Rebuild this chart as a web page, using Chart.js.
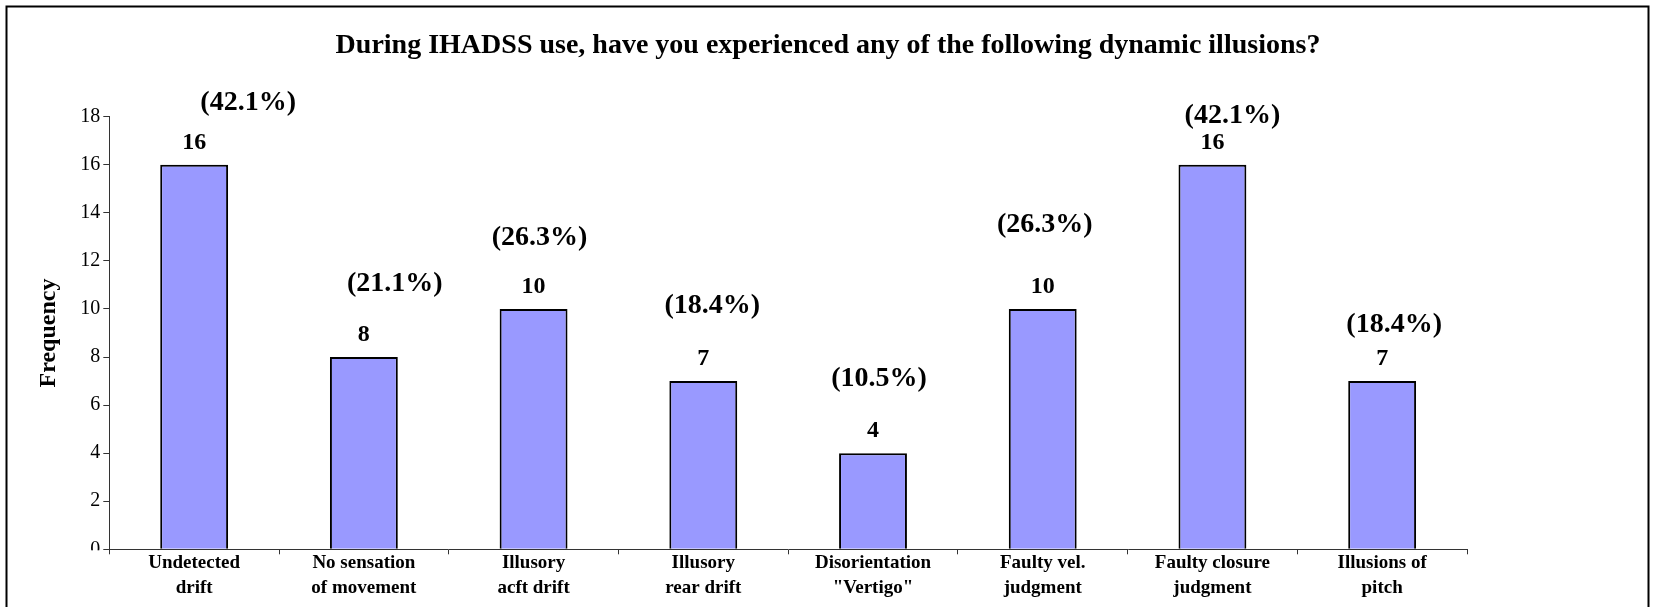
<!DOCTYPE html>
<html>
<head>
<meta charset="utf-8">
<title>Dynamic illusions</title>
<script src="https://cdn.jsdelivr.net/npm/chart.js@4.4.1/dist/chart.umd.min.js"></script>
<style>
  html, body { margin: 0; padding: 0; background: #ffffff; }
  canvas { display: block; }
</style>
</head>
<body>
<canvas id="illusionsChart" width="1654" height="607"></canvas>
<script>
// ======================================================
// DATA
// ======================================================

const categoryLabels = [
  ["Undetected", "drift"],
  ["No sensation", "of movement"],
  ["Illusory", "acft drift"],
  ["Illusory", "rear drift"],
  ["Disorientation", "\"Vertigo\""],
  ["Faulty vel.", "judgment"],
  ["Faulty closure", "judgment"],
  ["Illusions of", "pitch"],
];

const frequencyValues = [16, 8, 10, 7, 4, 10, 16, 7];

const percentValues = [42.1, 21.1, 26.3, 18.4, 10.5, 26.3, 42.1, 18.4];

const yTicks = { min: 0, max: 18, step: 2 };

const chartTitle =
  "During IHADSS use, have you experienced any of the following dynamic illusions?";

// ======================================================
// LAYOUT / STYLE
// ======================================================

const SERIF = "'Liberation Serif', 'Times New Roman', serif";
const BAR_COLOR = "#9999ff";
const AXIS_COLOR = "#333333";

// the percentage boxes were placed by hand in the original, offset from the count label
const percentLabelShift = [
  [54, -40],
  [31, -51],
  [6, -49],
  [9, -53],
  [6, -52],
  [2, -62],
  [20, -27],
  [12, -34],
];

// ======================================================
// PLUGINS
// ======================================================

const framePlugin = {
  id: "frame",
  beforeDraw(chart) {
    const { ctx } = chart;
    ctx.save();
    ctx.strokeStyle = "#000000";
    ctx.lineWidth = 2;
    ctx.strokeRect(6.5, 6.5, 1642, 700);

    ctx.fillStyle = "#000000";
    ctx.font = `bold 28px ${SERIF}`;
    ctx.textAlign = "center";
    ctx.textBaseline = "middle";
    ctx.fillText(chartTitle, 828, 46);
    ctx.restore();
  },
  afterDraw(chart) {
    // in the original the "0" tick label is cut off by the category axis
    const { ctx } = chart;
    const yScale = chart.scales.y;
    const zeroY = yScale.getPixelForValue(0);
    ctx.save();
    ctx.fillStyle = "#ffffff";
    ctx.fillRect(yScale.left + 40, zeroY + 1, yScale.width - 48, 14);
    ctx.restore();
  },
};

const barLabelPlugin = {
  id: "barLabels",
  afterDatasetsDraw(chart) {
    const { ctx } = chart;
    const bars = chart.getDatasetMeta(0).data;

    ctx.save();
    ctx.fillStyle = "#000000";
    ctx.textAlign = "center";
    ctx.textBaseline = "middle";

    bars.forEach((bar, i) => {
      const labelY = bar.y - 22;

      ctx.font = `bold 24px ${SERIF}`;
      ctx.fillText(String(frequencyValues[i]), bar.x, labelY);

      const [dx, dy] = percentLabelShift[i];
      ctx.font = `bold 28px ${SERIF}`;
      ctx.fillText(`(${percentValues[i].toFixed(1)}%)`, bar.x + dx, labelY + dy);
    });

    ctx.restore();
  },
};

// ======================================================
// CHART
// ======================================================

const ctx = document.getElementById("illusionsChart").getContext("2d");

const illusionsChart = new Chart(ctx, {
  type: "bar",
  data: {
    labels: categoryLabels,
    datasets: [
      {
        label: "Frequency",
        data: frequencyValues,
        backgroundColor: BAR_COLOR,
        borderColor: "#000000",
        borderWidth: 2,
        barPercentage: 0.4,
        categoryPercentage: 1.0,
      },
    ],
  },
  options: {
    responsive: false,
    animation: false,
    layout: {
      padding: { left: 0, right: 187, top: 116.7, bottom: 7.7 },
    },
    plugins: {
      legend: { display: false },
      tooltip: { enabled: false },
      title: { display: false },
    },
    scales: {
      x: {
        afterFit(scale) {
          scale.height = 50;
        },
        border: { color: AXIS_COLOR, width: 1 },
        grid: {
          offset: true,
          drawOnChartArea: false,
          drawTicks: true,
          tickLength: 5,
          color: AXIS_COLOR,
        },
        ticks: {
          color: "#000000",
          padding: -3.5,
          maxRotation: 0,
          autoSkip: false,
          font: { family: SERIF, size: 19, weight: "bold", lineHeight: "25px" },
        },
      },
      y: {
        min: yTicks.min,
        max: yTicks.max,
        afterFit(scale) {
          scale.width = 109.3;
        },
        border: { color: AXIS_COLOR, width: 1 },
        grid: {
          drawOnChartArea: false,
          drawTicks: true,
          tickLength: 6,
          color: AXIS_COLOR,
        },
        ticks: {
          stepSize: yTicks.step,
          color: "#000000",
          padding: 3,
          font: { family: SERIF, size: 20 },
        },
        title: {
          display: true,
          text: "Frequency",
          color: "#000000",
          padding: { top: 34, bottom: 0 },
          font: { family: SERIF, size: 24, weight: "bold", lineHeight: 1.2 },
        },
      },
    },
  },
  plugins: [framePlugin, barLabelPlugin],
});
</script>
</body>
</html>
